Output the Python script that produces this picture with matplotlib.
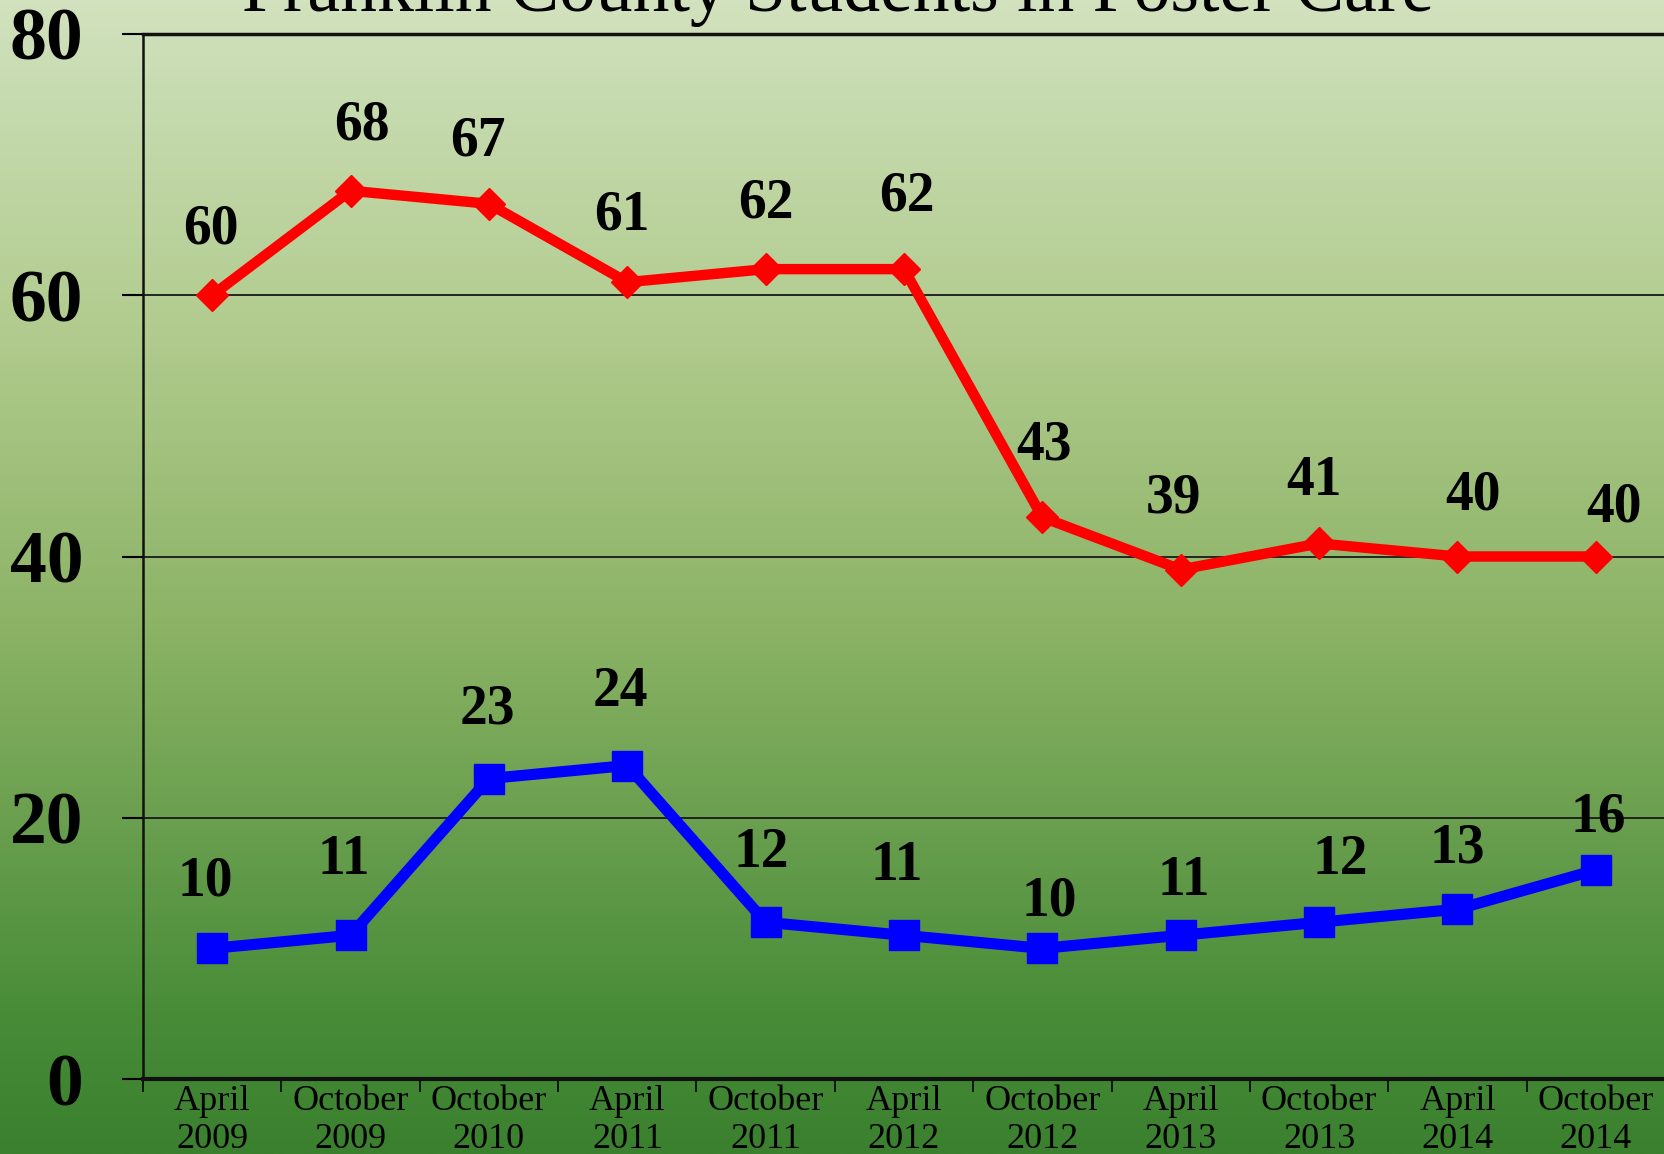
import numpy as np
import matplotlib
matplotlib.use("Agg")
import matplotlib.pyplot as plt
from matplotlib.colors import LinearSegmentedColormap

# data
periods = ["April\n2009", "October\n2009", "October\n2010", "April\n2011",
           "October\n2011", "April\n2012", "October\n2012", "April\n2013",
           "October\n2013", "April\n2014", "October\n2014"]
red_vals = [60, 68, 67, 61, 62, 62, 43, 39, 41, 40, 40]
blue_vals = [10, 11, 23, 24, 12, 11, 10, 11, 12, 13, 16]
title = "Franklin County Students in Foster Care"

# label nudges (points) so they sit where the original puts them
red_off = [(-1, 47), (8, 47), (-8, 45), (-4, 48), (0, 47), (2, 52),
           (1, 52), (-5, 51), (-4, 45), (11, 44), (13, 35)]
blue_off = [(-5, 48), (-5, 54), (-1, 50), (-5, 53), (-3, 50), (-5, 50),
            (5, 34), (2, 39), (15, 45), (0, 44), (2, 38)]

serif = ["Liberation Serif", "DejaVu Serif"]

fig = plt.figure(figsize=(16.65, 11.54), dpi=100)

# green gradient background over the whole figure
bg = fig.add_axes([0, 0, 1, 1], zorder=-1)
stops = [(0.0, (210, 226, 190)), (0.07, (200, 220, 178)), (0.28, (178, 204, 143)),
         (0.55, (138, 178, 100)), (0.88, (72, 140, 56)), (1.0, (58, 128, 46))]
cmap = LinearSegmentedColormap.from_list(
    "bg", [(p, tuple(c / 255 for c in col)) for p, col in stops])
bg.imshow(np.linspace(0, 1, 512).reshape(-1, 1), aspect="auto", cmap=cmap,
          extent=[0, 1, 0, 1])
bg.axis("off")

ax = fig.add_axes([143 / 1665, 1 - 1079 / 1154, 1 - 143 / 1665, (1079 - 34) / 1154])
ax.set_facecolor("none")

x = np.arange(len(periods))
ax.plot(x, red_vals, color="#ff0000", lw=7.5, marker="D", ms=16, zorder=3)
ax.plot(x, blue_vals, color="#0000ff", lw=8, marker="s", ms=22, zorder=3)

for xi, v, (dx, dy) in zip(x, red_vals, red_off):
    ax.annotate(str(v), (xi, v), xytext=(dx, dy), textcoords="offset points",
                ha="center", va="center", fontsize=40, fontweight="bold",
                family=serif, zorder=4)
for xi, v, (dx, dy) in zip(x, blue_vals, blue_off):
    ax.annotate(str(v), (xi, v), xytext=(dx, dy), textcoords="offset points",
                ha="center", va="center", fontsize=40, fontweight="bold",
                family=serif, zorder=4)

ax.set_xlim(-0.5, len(periods) - 0.5)
ax.set_ylim(0, 80)

ax.set_yticks([0, 20, 40, 60, 80])
ax.set_yticklabels(["0", "20", "40", "60", "80"], fontsize=53, fontweight="bold",
                   family=serif)
ax.tick_params(axis="y", length=15, width=1.5, pad=28, direction="out")
for gy in [20, 40, 60]:
    ax.axhline(gy, color="#1a1a1a", lw=1.3, zorder=1)

ax.set_xticks(np.arange(len(periods) + 1) - 0.5)
ax.set_xticklabels([])
ax.set_xticks(x, minor=True)
ax.set_xticklabels(periods, minor=True, fontsize=26, family=serif, linespacing=1.2)
ax.tick_params(axis="x", which="major", length=9, width=1.2, direction="out")
ax.tick_params(axis="x", which="minor", length=0, pad=4)

ax.spines["left"].set_linewidth(1.8)
ax.spines["bottom"].set_linewidth(3)
ax.spines["top"].set_linewidth(2.5)
ax.spines["right"].set_linewidth(1.2)
for s in ax.spines.values():
    s.set_color("#111111")

# title is clipped by the top edge in the original as well
fig.text(838 / 1665, 1 - 11 / 1154, title, ha="center", va="baseline",
         fontsize=53, family=serif)

fig.savefig("out.png", dpi=100)
